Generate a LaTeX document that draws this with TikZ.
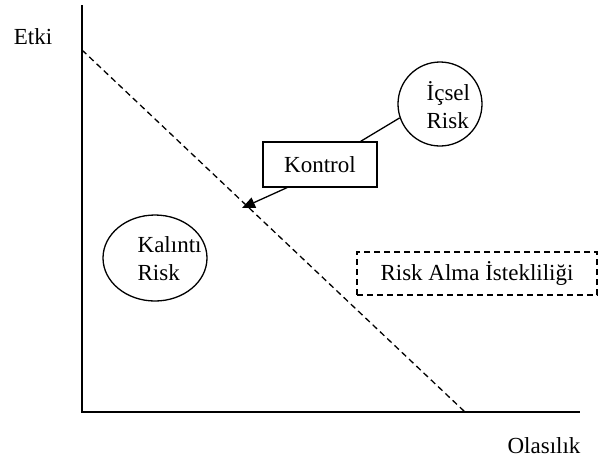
\documentclass[tikz,border=0pt]{standalone}
\usepackage{fontspec}
\setmainfont{Liberation Serif}
\usetikzlibrary{shapes.geometric,arrows.meta}
\tikzset{
	lbl/.style = {font=\fontsize{23}{28}\selectfont, align=left},
	riskdash/.style = {dash pattern=on 6pt off 4pt},
}
\begin{document}
\begin{tikzpicture} [x=1pt, y=-1pt, line width=1.3pt]
	\useasboundingbox (0,0) rectangle (599,459);
	% axes
	\coordinate (o) at (82,412);
	\coordinate (ytop) at (82,5);
	\coordinate (xend) at (580,412);
	\draw (ytop) -- (o) -- (xend);
	\node [lbl] (etki) at (33,37) {Etki};
	\node [lbl] (olas) at (544,446) {Olasılık};
	% tolerance line
	\coordinate (d1) at (82,50);
	\coordinate (d2) at (465,412);
	\draw [riskdash] (d1) -- (d2);
	\node [draw, circle, minimum size=84pt, inner sep=0pt] (icsel) at (440,104) {};
	\node [lbl, anchor=west, inner sep=0pt] (icseltxt) at (426,105) {İçsel\\Risk};
	\node [draw, ellipse, minimum width=104pt, minimum height=86pt, inner sep=0pt] (kalinti) at (155,258) {};
	\node [lbl, anchor=west, inner sep=0pt] (kalintitxt) at (137,259) {Kalıntı\\Risk};
	\node [draw, rectangle, minimum width=114pt, minimum height=45pt, lbl] (kontrol) at (320,164.5) {Kontrol};
	\node [draw, riskdash, rectangle, minimum width=240pt, minimum height=43pt, lbl] (istek) at (477,273.5) {Risk Alma İstekliliği};
	\draw (icsel.199) -- ([xshift=-17pt]kontrol.north east);
	\coordinate (tip) at (242,208);
	\draw [-{Triangle[length=13pt, width=11pt]}] ([xshift=-33pt]kontrol.south) -- (tip);
	%\node at (300,300) {test};
\end{tikzpicture}
\end{document}
